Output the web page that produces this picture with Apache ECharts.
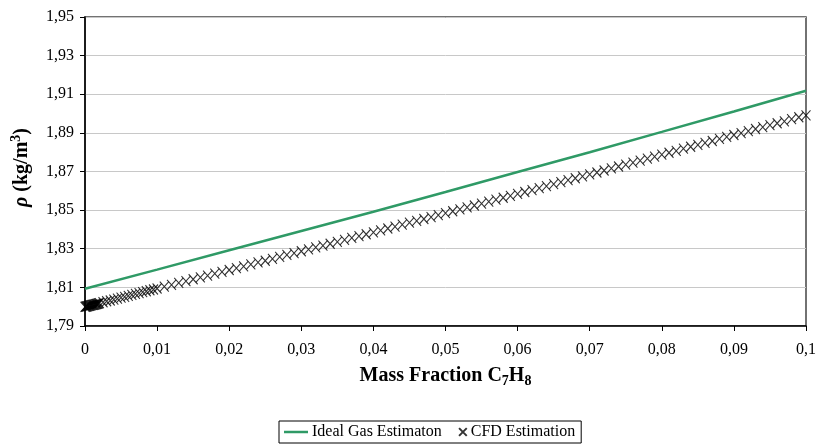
<!DOCTYPE html>
<html>
<head>
<meta charset="utf-8">
<script src="https://cdn.jsdelivr.net/npm/echarts@6/dist/echarts.min.js"></script>
<style>
html,body{margin:0;padding:0;background:#fff;}
#chart{width:829px;height:446px;}
</style>
</head>
<body>
<div id="chart"></div>
<script>
// Ideal gas estimation (line)
var idealX = [0, 0.01, 0.02, 0.03, 0.04, 0.05, 0.06, 0.07, 0.08, 0.09, 0.1];
var idealY = [1.8093, 1.8192, 1.8292, 1.8392, 1.8492, 1.8594, 1.8697, 1.8800, 1.8905, 1.9011, 1.9118];

// CFD estimation (x markers)
var cfdX = [
  0, 0.0001, 0.0002, 0.0003, 0.0004, 0.0005, 0.0006, 0.0007, 0.0008, 0.0009,
  0.0010, 0.0011, 0.0012, 0.0013, 0.0014, 0.0015, 0.0016, 0.0017, 0.0018, 0.0019,
  0.0020, 0.0025, 0.0030, 0.0035, 0.0040, 0.0045, 0.0050, 0.0055, 0.0060, 0.0065,
  0.0070, 0.0075, 0.0080, 0.0085, 0.0090, 0.0095,
  0.010, 0.011, 0.012, 0.013, 0.014, 0.015, 0.016, 0.017, 0.018, 0.019,
  0.020, 0.021, 0.022, 0.023, 0.024, 0.025, 0.026, 0.027, 0.028, 0.029,
  0.030, 0.031, 0.032, 0.033, 0.034, 0.035, 0.036, 0.037, 0.038, 0.039,
  0.040, 0.041, 0.042, 0.043, 0.044, 0.045, 0.046, 0.047, 0.048, 0.049,
  0.050, 0.051, 0.052, 0.053, 0.054, 0.055, 0.056, 0.057, 0.058, 0.059,
  0.060, 0.061, 0.062, 0.063, 0.064, 0.065, 0.066, 0.067, 0.068, 0.069,
  0.070, 0.071, 0.072, 0.073, 0.074, 0.075, 0.076, 0.077, 0.078, 0.079,
  0.080, 0.081, 0.082, 0.083, 0.084, 0.085, 0.086, 0.087, 0.088, 0.089,
  0.090, 0.091, 0.092, 0.093, 0.094, 0.095, 0.096, 0.097, 0.098, 0.099,
  0.100
];
var cfdY = [
  1.7999, 1.8000, 1.8001, 1.8002, 1.8003, 1.8004, 1.8005, 1.8006, 1.8007, 1.8008,
  1.8009, 1.8009, 1.8010, 1.8011, 1.8012, 1.8013, 1.8014, 1.8015, 1.8016, 1.8017,
  1.8018, 1.8023, 1.8028, 1.8032, 1.8037, 1.8042, 1.8047, 1.8051, 1.8056, 1.8061,
  1.8066, 1.8070, 1.8075, 1.8080, 1.8085, 1.8089,
  1.8094, 1.8104, 1.8113, 1.8123, 1.8132, 1.8142, 1.8152, 1.8161, 1.8171, 1.8180,
  1.8190, 1.8200, 1.8209, 1.8219, 1.8229, 1.8238, 1.8248, 1.8258, 1.8268, 1.8277,
  1.8287, 1.8297, 1.8307, 1.8316, 1.8326, 1.8336, 1.8346, 1.8356, 1.8365, 1.8375,
  1.8385, 1.8395, 1.8405, 1.8415, 1.8425, 1.8435, 1.8444, 1.8454, 1.8464, 1.8474,
  1.8484, 1.8494, 1.8504, 1.8514, 1.8524, 1.8534, 1.8544, 1.8554, 1.8564, 1.8574,
  1.8584, 1.8594, 1.8604, 1.8614, 1.8624, 1.8635, 1.8645, 1.8655, 1.8665, 1.8675,
  1.8685, 1.8695, 1.8705, 1.8716, 1.8726, 1.8736, 1.8746, 1.8756, 1.8767, 1.8777,
  1.8787, 1.8797, 1.8807, 1.8818, 1.8828, 1.8838, 1.8848, 1.8858, 1.8869, 1.8879,
  1.8889, 1.8899, 1.8909, 1.8920, 1.8930, 1.8940, 1.8950, 1.8960, 1.8971, 1.8981,
  1.8991
];

var seriesNames = ['Ideal Gas Estimaton', 'CFD Estimation'];

function zip(xs, ys) { return xs.map(function (x, i) { return [x, ys[i]]; }); }

var FONT = '"Liberation Serif", "DejaVu Serif", serif';
var GREEN = '#2f9a66';
var chart = echarts.init(document.getElementById('chart'), null, { renderer: 'canvas' });

chart.setOption({
  backgroundColor: '#ffffff',
  animation: false,
  textStyle: { fontFamily: FONT, color: '#000' },
  grid: {
    left: 85, right: 23, top: 17, bottom: 120,
    show: true, borderColor: '#444', borderWidth: 1.5, backgroundColor: '#fff'
  },
  legend: {
    data: [
      { name: seriesNames[0], icon: 'path://M0,0L24,0L24,2.5L0,2.5Z' },
      { name: seriesNames[1], icon: 'path://M-17,4 M0,0L8,8M8,0L0,8' }
    ],
    left: 279, top: 421,
    padding: [3, 6, 3, 5],
    borderColor: '#000', borderWidth: 1,
    itemGap: 0, itemWidth: 24, itemHeight: 10,
    textStyle: { fontFamily: FONT, fontSize: 16, color: '#000', padding: [0, 0, 0, -1] }
  },
  xAxis: {
    type: 'value', min: 0, max: 0.1, interval: 0.01,
    axisLine: { show: true, lineStyle: { color: '#000', width: 1.5 } },
    axisTick: { show: true, inside: false, length: 5, lineStyle: { color: '#000' } },
    splitLine: { show: false },
    axisLabel: {
      fontFamily: FONT, fontSize: 16, color: '#000', margin: 16,
      formatter: function (v) { return String(Math.round(v * 100) / 100).replace('.', ','); }
    },
    name: '{b|Mass Fraction C}{s|7}{b|H}{s|8}',
    nameLocation: 'middle', nameGap: 38,
    nameTextStyle: {
      rich: {
        b: { fontFamily: FONT, fontWeight: 'bold', fontSize: 20, color: '#000', lineHeight: 24, verticalAlign: 'middle' },
        s: { fontFamily: FONT, fontWeight: 'bold', fontSize: 14, color: '#000', lineHeight: 24, verticalAlign: 'bottom', padding: [10, 0, 0, 0] }
      }
    }
  },
  yAxis: {
    type: 'value', min: 1.79, max: 1.95, interval: 0.02,
    axisLine: { show: true, lineStyle: { color: '#000', width: 1.5 } },
    axisTick: { show: true, inside: false, length: 5, lineStyle: { color: '#000' } },
    splitLine: { show: true, lineStyle: { color: '#c8c8c8', width: 1 } },
    axisLabel: {
      fontFamily: FONT, fontSize: 16, color: '#000', margin: 11,
      formatter: function (v) { return v.toFixed(2).replace('.', ','); }
    },
    name: '{r|ρ}{b| (kg/m}{s|3}{b|)}',
    nameLocation: 'middle', nameRotate: 90, nameGap: 42,
    nameTextStyle: {
      padding: [0, 0, 0, 8],
      rich: {
        r: { fontFamily: FONT, fontWeight: 'bold', fontStyle: 'italic', fontSize: 20, color: '#000', lineHeight: 26, verticalAlign: 'middle' },
        b: { fontFamily: FONT, fontWeight: 'bold', fontSize: 20, color: '#000', lineHeight: 26, verticalAlign: 'middle' },
        s: { fontFamily: FONT, fontWeight: 'bold', fontSize: 14, color: '#000', lineHeight: 26, verticalAlign: 'top', padding: [0, 0, 12, 0] }
      }
    }
  },
  series: [
    {
      name: seriesNames[0], type: 'line', data: zip(idealX, idealY),
      showSymbol: false, symbol: 'none', smooth: false,
      lineStyle: { color: GREEN, width: 2.5 },
      itemStyle: { color: GREEN },
      z: 3
    },
    {
      name: seriesNames[1], type: 'scatter', data: zip(cfdX, cfdY),
      symbol: 'path://M0,0L10,10M10,0L0,10', symbolSize: [9, 10],
      itemStyle: { color: 'rgba(0,0,0,0)', borderColor: '#000', borderWidth: 1.1 },
      z: 4
    }
  ]
});
</script>
</body>
</html>
